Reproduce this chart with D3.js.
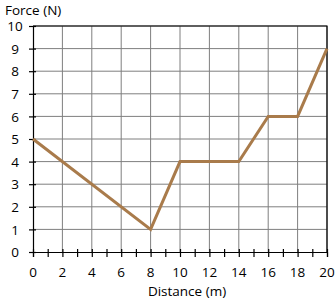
<!DOCTYPE html>
<html>
<head>
<meta charset="utf-8">
<script src="https://cdn.jsdelivr.net/npm/d3@7"></script>
<style>
  body { margin: 0; background: #fff; }
  svg { display: block; font-family: "Open Sans", "Liberation Sans", sans-serif; }
</style>
</head>
<body>
<div id="chart"></div>
<script>
// distance (m) vs force (N)
const distance = [0, 8, 10, 14, 16, 18, 20];
const force = [5, 1, 4, 4, 6, 6, 9];
const xTickLabels = [0, 2, 4, 6, 8, 10, 12, 14, 16, 18, 20];
const yTickLabels = [0, 1, 2, 3, 4, 5, 6, 7, 8, 9, 10];

const width = 336, height = 300;
const margin = { top: 26, right: 9, bottom: 48, left: 33 };
const fontSize = 13.5;

const svg = d3.select('#chart')
  .append('svg')
  .attr('width', width)
  .attr('height', height);

const x = d3.scaleLinear().domain([0, 20]).range([margin.left, width - margin.right]);
const y = d3.scaleLinear().domain([0, 10]).range([height - margin.bottom, margin.top]);

//grid
svg.append('g')
  .selectAll('line')
  .data(xTickLabels.slice(1))
  .enter().append('line')
  .attr('x1', d => x(d)).attr('x2', d => x(d))
  .attr('y1', y(0)).attr('y2', y(10))
  .attr('stroke', '#7f7f7f').attr('stroke-width', 1);

svg.append('g')
  .selectAll('line')
  .data(yTickLabels.slice(1))
  .enter().append('line')
  .attr('x1', x(0)).attr('x2', x(20))
  .attr('y1', d => y(d)).attr('y2', d => y(d))
  .attr('stroke', '#7f7f7f').attr('stroke-width', 1);

//border top + right
svg.append('path')
  .attr('d', 'M' + x(0) + ',' + y(10) + 'H' + x(20) + 'V' + y(0))
  .attr('fill', 'none').attr('stroke', '#000').attr('stroke-width', 1.2);

//x axis, minor ticks every 1
const xAxis = svg.append('g')
  .attr('transform', 'translate(0,' + y(0) + ')')
  .call(d3.axisBottom(x).tickValues(d3.range(0, 21, 1)).tickSize(5).tickFormat(''));
xAxis.select('.domain').attr('stroke-width', 1.2);
xAxis.selectAll('.tick line').attr('y1', -3).attr('stroke-width', 1.2);

svg.append('g')
  .selectAll('text')
  .data(xTickLabels)
  .enter().append('text')
  .attr('x', d => x(d))
  .attr('y', 277)
  .attr('text-anchor', 'middle')
  .attr('font-size', fontSize)
  .text(d => d);

//y axis (labels centred in the left gutter)
const yAxis = svg.append('g')
  .attr('transform', 'translate(' + x(0) + ',0)')
  .call(d3.axisLeft(y).tickValues(yTickLabels).tickSize(4).tickFormat(''));
yAxis.select('.domain').attr('stroke-width', 1.2);
yAxis.selectAll('.tick line').attr('x1', -4).attr('x2', 3).attr('stroke-width', 1.2);

svg.append('g')
  .selectAll('text')
  .data(yTickLabels)
  .enter().append('text')
  .attr('x', 15)
  .attr('y', d => y(d))
  .attr('dy', '0.38em')
  .attr('text-anchor', 'middle')
  .attr('font-size', fontSize)
  .text(d => d);

//line
const pts = distance.map((d, i) => [d, force[i]]);
svg.append('path')
  .datum(pts)
  .attr('d', d3.line().x(d => x(d[0])).y(d => y(d[1])))
  .attr('fill', 'none')
  .attr('stroke', '#a97b4b')
  .attr('stroke-width', 3)
  .attr('stroke-linejoin', 'miter');

//titles
svg.append('text')
  .attr('x', 5).attr('y', 14.5)
  .attr('font-size', fontSize)
  .text('Force (N)');

svg.append('text')
  .attr('x', 187)
  .attr('y', 295.5)
  .attr('text-anchor', 'middle')
  .attr('font-size', fontSize)
  .text('Distance (m)');
</script>
</body>
</html>
